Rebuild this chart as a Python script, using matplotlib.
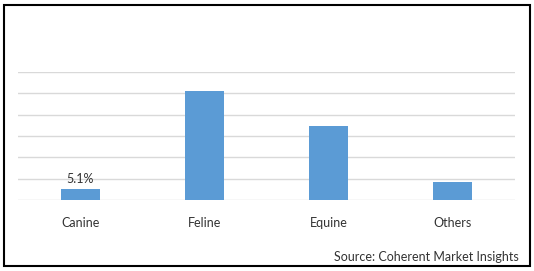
import matplotlib
matplotlib.use("Agg")
import matplotlib.pyplot as plt
from matplotlib.patches import Rectangle

categories = ['Canine', 'Feline', 'Equine', 'Others']
shares = [5.1, 51.1, 34.8, 8.4]
labels = ['5.1%', '', '', '']
source = 'Source: Coherent Market Insights'

plt.rcParams['font.family'] = ['Lato', 'DejaVu Sans']

fig = plt.figure(figsize=(5.34, 2.71), dpi=100)
W, H = 534, 271

# plot area in pixel terms
left, right, top, bottom = 18, 515, 72, 200
ax = fig.add_axes([left / W, (H - bottom) / H, (right - left) / W, (bottom - top) / H])

x = range(len(categories))
bars = ax.bar(x, shares, width=0.315, color='#5B9BD5', zorder=3)
ax.bar_label(bars, labels=labels, padding=3, fontsize=9, color='#333333')

ax.set_xlim(-0.5, len(categories) - 0.5)
ax.set_ylim(0, 60)
ax.set_yticks(range(0, 61, 10))
ax.yaxis.grid(True, color='#d9d9d9', linewidth=1.0, zorder=0)
ax.set_yticklabels([])
ax.tick_params(axis='y', length=0)
ax.set_xticks(list(x))
ax.set_xticklabels(categories, fontsize=9, color='#333333')
ax.tick_params(axis='x', length=0, pad=12)
for s in ax.spines.values():
    s.set_visible(False)

fig.text(519 / W, 1 - 257 / H, source, ha='right', va='center', fontsize=9, color='#333333')

# outer border
fig.patches.append(Rectangle((3.5 / W, 1 - 266 / H), (530 - 3.5) / W, (266 - 4.5) / H,
                             transform=fig.transFigure, fill=False, edgecolor='black', linewidth=1.5))

fig.savefig('out.png', dpi=100)
